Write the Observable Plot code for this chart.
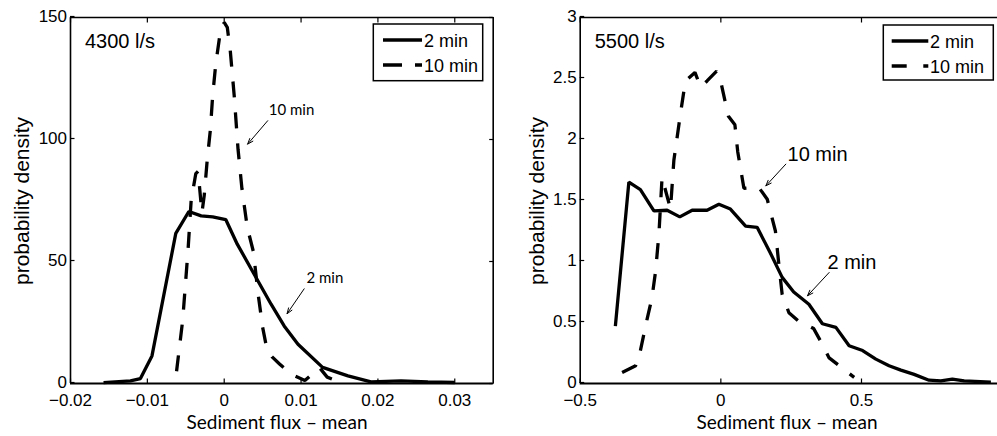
<!DOCTYPE html>
<html><head><meta charset="utf-8">
<script src="https://cdn.jsdelivr.net/npm/d3@7"></script>
<script src="https://cdn.jsdelivr.net/npm/@observablehq/plot@0.6"></script>
<style>
html,body{margin:0;padding:0;background:#fff;}
body{width:997px;height:436px;overflow:hidden;}
#wrap{display:flex;flex-direction:row;align-items:flex-start;}
#wrap svg{display:block;overflow:visible;}
</style></head>
<body><div id="wrap"></div>
<script>
// ---------- Left panel: 4300 l/s ----------
const leftTitle = "4300 l/s";
const leftSolidX = [-0.0157,-0.0122,-0.0109,-0.0094,-0.0063,-0.0046,-0.0030,-0.0015,0.0002,0.0017,0.0039,0.0061,0.0078,0.0096,0.0128,0.0161,0.0191,0.0230,0.0265,0.0300];
const leftSolidY = [0.4,1.1,2.0,11.3,61.5,70.5,68.7,68.3,67.2,57.1,44.8,32.5,23.6,16.1,6.6,3.1,0.7,1.1,0.7,0.4];
const leftDashX = [-0.0062,-0.0054,-0.0047,-0.0043,-0.0037,-0.0034,-0.0029,-0.0026,-0.0022,-0.0018,-0.0015,-0.0011,-0.0006,0.0000,0.0004,0.0008,0.0013,0.0018,0.0023,0.0030,0.0038,0.0044,0.0050,0.0055,0.0062,0.0072,0.0087,0.0105,0.0124,0.0134,0.0152];
const leftDashY = [5,26,55,75,86,87,70,77,92,104,118,131,142,148,146,136,118,96,80,64,54,37,23,15,11,8,3.8,1.2,6.5,2.6,0.4];
const leftXTicks = [-0.02,-0.01,0,0.01,0.02,0.03];
const leftYTicks = [0,50,100,150];
const leftNoteText = ["10 min","2 min"];
const leftNoteX = [0.0058,0.0107];
const leftNoteY = [110,41];
const leftArrowX1 = [0.00566,0.0104];
const leftArrowY1 = [107.7,38.8];
const leftArrowX2 = [0.00305,0.00818];
const leftArrowY2 = [98.1,28.6];

// ---------- Right panel: 5500 l/s ----------
const rightTitle = "5500 l/s";
const rightSolidX = [-0.375,-0.327,-0.286,-0.238,-0.191,-0.146,-0.102,-0.049,-0.007,0.034,0.088,0.129,0.176,0.218,0.259,0.313,0.361,0.409,0.456,0.504,0.551,0.598,0.640,0.687,0.740,0.782,0.823,0.865,0.960];
const rightSolidY = [0.47,1.65,1.59,1.415,1.42,1.366,1.42,1.42,1.47,1.43,1.29,1.28,1.07,0.87,0.75,0.65,0.49,0.46,0.31,0.27,0.20,0.145,0.11,0.075,0.027,0.022,0.036,0.022,0.012];
const rightDashX = [-0.351,-0.303,-0.286,-0.262,-0.245,-0.232,-0.220,-0.209,-0.179,-0.167,-0.143,-0.126,-0.092,-0.072,-0.049,-0.015,0.002,0.027,0.050,0.060,0.082,0.134,0.165,0.194,0.206,0.218,0.242,0.277,0.330,0.354,0.385,0.426,0.474];
const rightDashY = [0.09,0.146,0.27,0.53,0.70,0.92,1.23,1.69,1.43,1.83,2.22,2.48,2.55,2.43,2.48,2.56,2.45,2.19,2.12,1.90,1.60,1.61,1.51,1.25,0.98,0.73,0.58,0.51,0.45,0.35,0.21,0.137,0.05];
const rightXTicks = [-0.5,0,0.5];
const rightYTicks = [0,0.5,1,1.5,2,2.5,3];
const rightNoteText = ["10 min","2 min"];
const rightNoteX = [0.237,0.379];
const rightNoteY = [1.825,0.94];
const rightArrowX1 = [0.231,0.385];
const rightArrowY1 = [1.798,0.91];
const rightArrowX2 = [0.160,0.308];
const rightArrowY2 = [1.62,0.719];

const seriesNames = ["2 min","10 min"];
const xLabel = "Sediment flux \u2013 mean";
const yLabel = "probability density";

const helv = "'Liberation Sans', Arial, Helvetica, sans-serif";
const myriad = "Lato, 'Noto Sans', sans-serif";
const fmt = d3.format("~g");

function zip(xs, ys){ return xs.map((x,i)=>({x, y: ys[i]})); }

function panel(cfg){
  const solid = zip(cfg.sx, cfg.sy);
  const dashed = zip(cfg.dx, cfg.dy);
  const notes = cfg.noteText.map((t,i)=>({t, x: cfg.noteX[i], y: cfg.noteY[i]}));
  const arrows = cfg.ax1.map((x1,i)=>({x1, y1: cfg.ay1[i], x2: cfg.ax2[i], y2: cfg.ay2[i]}));
  const marks = [
    Plot.axisX({anchor:"bottom", ticks: cfg.xTicks, tickSize: -4.5, tickPadding: 15, tickFormat: fmt, label: null, strokeWidth: 1.2}),
    Plot.axisX({anchor:"top", ticks: cfg.xTicks, tickSize: -4.5, tickFormat: () => "", label: null, strokeWidth: 1.2}),
    Plot.axisY({anchor:"left", ticks: cfg.yTicks, tickSize: -4.5, tickPadding: 8, tickFormat: fmt, label: null, strokeWidth: 1.2, dy: -1}),
    Plot.ruleX([cfg.xDomain[0]], {strokeWidth: 1.6}),
    Plot.ruleY([cfg.yDomain[0]], {strokeWidth: 2}),
    Plot.ruleY([cfg.yDomain[1]], {strokeWidth: 1.6}),
    Plot.line(solid, {x:"x", y:"y", stroke:"black", strokeWidth: 3.3, strokeLinejoin:"miter", strokeLinecap:"butt"}),
    Plot.line(dashed, {x:"x", y:"y", stroke:"black", strokeWidth: 3.3, strokeDasharray: "16,15", strokeLinejoin:"miter", strokeLinecap:"butt"}),
    Plot.arrow(arrows, {x1:"x1", y1:"y1", x2:"x2", y2:"y2", stroke:"black", strokeWidth: 1, headLength: 9, headAngle: 40}),
    Plot.text(notes, {x:"x", y:"y", text:"t", textAnchor:"start", lineAnchor:"bottom", fontSize: cfg.noteSize, fontFamily: cfg.noteFont, fill:"black"})
  ];
  if (cfg.rightFrame) {
    marks.push(Plot.axisY({anchor:"right", ticks: cfg.yTicks, tickSize: -4.5, tickFormat: () => "", label: null, strokeWidth: 1.2}));
    marks.push(Plot.ruleX([cfg.xDomain[1]], {strokeWidth: 1.6}));
  }
  const svg = Plot.plot({
    width: cfg.width, height: 436,
    marginLeft: cfg.ml, marginRight: cfg.mr, marginTop: 17, marginBottom: 53,
    x: {domain: cfg.xDomain},
    y: {domain: cfg.yDomain},
    style: {fontFamily: helv, fontSize: "17px", color: "black", background: "white", overflow: "visible"},
    marks
  });
  const s = d3.select(svg);
  // panel label
  s.append("text").attr("x", cfg.ml + 15).attr("y", 48).attr("text-anchor","start")
    .attr("font-family", helv).attr("font-size", 20).attr("fill","black").text(cfg.title);
  // x label
  s.append("text").attr("x", cfg.xLabelX).attr("y", 429).attr("text-anchor","middle")
    .attr("font-family", myriad).attr("font-size", 19).attr("fill","black").text(xLabel);
  // y label
  s.append("text").attr("transform", `translate(${cfg.yLabelX},${201}) rotate(-90)`).attr("text-anchor","middle")
    .attr("font-family", helv).attr("font-size", 21).attr("fill","black").text(yLabel);
  // legend
  const L = cfg.legend;
  const g = s.append("g").attr("text-anchor","start");
  g.append("rect").attr("x", L.x).attr("y", L.y).attr("width", L.w).attr("height", L.h)
    .attr("fill","white").attr("stroke","black").attr("stroke-width",1.5);
  g.append("line").attr("x1", L.lx1).attr("x2", L.lx2).attr("y1", L.y + 16).attr("y2", L.y + 16)
    .attr("stroke","black").attr("stroke-width",3.3);
  g.append("line").attr("x1", L.lx1).attr("x2", L.lx2).attr("y1", L.y + 41).attr("y2", L.y + 41)
    .attr("stroke","black").attr("stroke-width",3.3).attr("stroke-dasharray", L.dash);
  g.append("text").attr("x", L.tx).attr("y", L.y + 23).attr("font-family", helv).attr("font-size", 18).attr("fill","black").text(seriesNames[0]);
  g.append("text").attr("x", L.tx).attr("y", L.y + 48).attr("font-family", helv).attr("font-size", 18).attr("fill","black").text(seriesNames[1]);
  return svg;
}

const wrap = document.getElementById("wrap");
wrap.appendChild(panel({
  title: leftTitle, width: 510, ml: 70, mr: 17.3,
  xDomain: [-0.02, 0.035], yDomain: [0, 150],
  xTicks: leftXTicks, yTicks: leftYTicks,
  sx: leftSolidX, sy: leftSolidY, dx: leftDashX, dy: leftDashY,
  noteText: leftNoteText, noteX: leftNoteX, noteY: leftNoteY,
  ax1: leftArrowX1, ay1: leftArrowY1, ax2: leftArrowX2, ay2: leftArrowY2,
  noteSize: 15, noteFont: myriad, rightFrame: true,
  xLabelX: 277, yLabelX: 29,
  legend: {x: 373.3, y: 24, w: 109.4, h: 56.7, lx1: 383, lx2: 422, tx: 424, dash: "19,13"}
}));
wrap.appendChild(panel({
  title: rightTitle, width: 487, ml: 69.7, mr: 0,
  xDomain: [-0.5, 0.9835], yDomain: [0, 3],
  xTicks: rightXTicks, yTicks: rightYTicks,
  sx: rightSolidX, sy: rightSolidY, dx: rightDashX, dy: rightDashY,
  noteText: rightNoteText, noteX: rightNoteX, noteY: rightNoteY,
  ax1: rightArrowX1, ay1: rightArrowY1, ax2: rightArrowX2, ay2: rightArrowY2,
  noteSize: 20, noteFont: helv, rightFrame: false,
  xLabelX: 277, yLabelX: 34,
  legend: {x: 373.3, y: 25, w: 110, h: 55, lx1: 381.7, lx2: 418.3, tx: 420, dash: "15,16.6"}
}));
</script>
</body></html>
